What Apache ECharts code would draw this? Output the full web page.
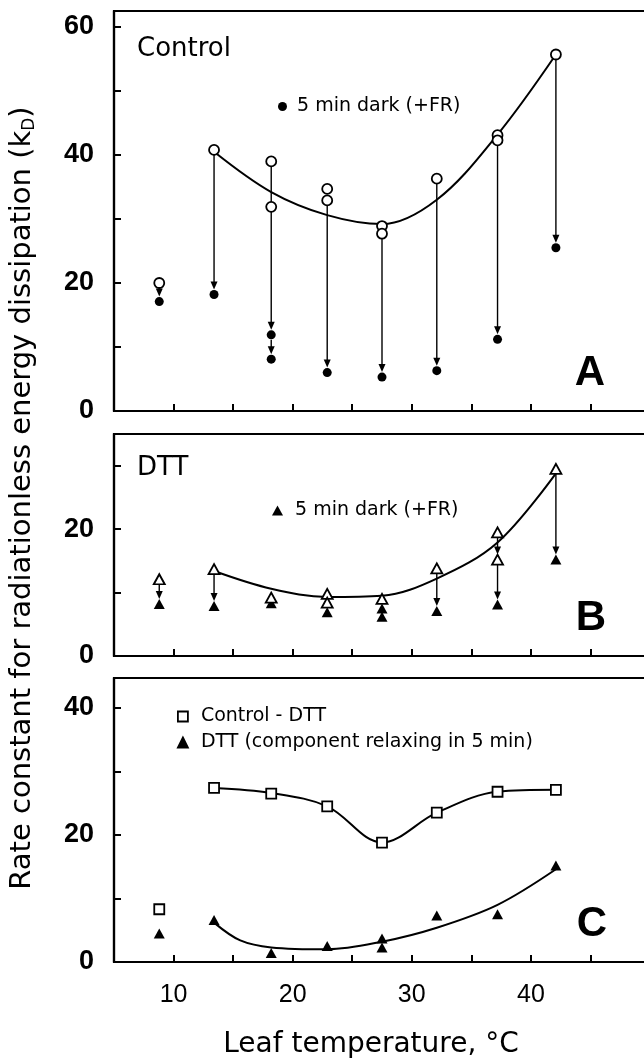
<!DOCTYPE html>
<html lang="en">
<head>
<meta charset="UTF-8">
<title>Radiationless energy dissipation vs leaf temperature</title>
<script src="https://cdn.jsdelivr.net/npm/echarts@6/dist/echarts.min.js"></script>
<style>
    html, body { margin: 0; padding: 0; background: #fff; }
    #chart { width: 644px; height: 1059px; }
</style>
</head>
<body>
<div id="chart"></div>
<script>
// ---- values: [temperature, k_D] ----
// panel A, control leaves: open = in light, filled = after 5 min dark (+FR)
var ctrlLight = [[8.8, 20], [13.4, 40.8], [18.2, 39], [18.2, 31.9], [22.9, 34.7], [22.9, 32.9],
    [27.5, 28.9], [27.5, 27.7], [32.1, 36.3], [37.2, 43.1], [37.2, 42.3], [42.1, 55.7]];
var ctrlDark = [[8.8, 17.1], [13.4, 18.2], [18.2, 11.9], [18.2, 8.1], [22.9, 6.0], [27.5, 5.3],
    [32.1, 6.3], [37.2, 11.2], [42.1, 25.5]];
// arrows: [temperature, from, to]
var ctrlArrows = [[8.8, 20, 17.1], [13.4, 40.8, 18.2], [18.2, 39, 11.9], [18.2, 11.9, 8.1], [22.9, 32.9, 6.0],
    [27.5, 27.7, 5.3], [32.1, 36.3, 6.3], [37.2, 42.3, 11.2], [42.1, 55.7, 25.5]];
var ctrlCurve = [[13.4, 40.5], [18.2, 34.2], [22.9, 30.6], [27.5, 29.2], [32.1, 33.0], [37.2, 43.2], [42.1, 55.7]];

// panel B, DTT-fed leaves
var dttLight = [[8.8, 12.1], [13.4, 13.7], [18.2, 9.2], [22.9, 9.8], [22.9, 8.4], [27.5, 9.0],
    [32.1, 13.8], [37.2, 19.5], [37.2, 15.2], [42.1, 29.5]];
var dttDark = [[8.8, 8.2], [13.4, 7.9], [18.2, 8.3], [22.9, 6.9], [27.5, 7.5], [27.5, 6.2],
    [32.1, 7.1], [37.2, 8.1], [42.1, 15.2]];
var dttArrows = [[8.8, 12.1, 8.2], [13.4, 13.7, 7.9], [32.1, 13.8, 7.1], [37.2, 19.5, 15.2],
    [37.2, 15.2, 8.1], [42.1, 29.5, 15.2]];
var dttCurve = [[13.4, 13.4], [18.2, 10.6], [22.9, 9.3], [27.5, 9.5], [32.1, 12.2], [37.2, 17.9], [42.1, 28.8]];

// panel C
var diffPts = [[8.8, 8.3], [13.4, 27.4], [18.2, 26.5], [22.9, 24.5], [27.5, 18.8], [32.1, 23.5],
    [37.2, 26.8], [42.1, 27.1]];
var relaxPts = [[8.8, 4.5], [13.4, 6.6], [18.2, 1.4], [22.9, 2.5], [27.5, 3.7], [27.5, 2.3],
    [32.1, 7.3], [37.2, 7.5], [42.1, 15.2]];
var diffCurve = [[13.4, 27.4], [18.2, 26.6], [22.9, 24.5], [27.5, 18.8], [32.1, 23.5], [37.2, 26.8], [42.1, 27.1]];
var relaxCurve = [[13.4, 6.2], [15.6, 3.4], [18.2, 2.3], [22.9, 2.0], [27.5, 3.2], [32.1, 5.4], [37.2, 9.0], [42.1, 14.6]];

// tick labels
var xLabels = [10, 20, 30, 40];
var yLabelsA = [0, 20, 40, 60];
var yLabelsB = [0, 20];
var yLabelsC = [0, 20, 40];

var darkName = '5 min dark (+FR)';
var diffName = 'Control - DTT';
var relaxName = 'DTT (component relaxing in 5 min)';

var chart = echarts.init(document.getElementById('chart'));

function xAxis(i, showLabels) {
    return {
        type: 'value', gridIndex: i, min: 5, max: 50, interval: 5,
        axisLine: { onZero: false, lineStyle: { color: '#000', width: 2.2 } },
        axisTick: { inside: true, length: 7, lineStyle: { color: '#000', width: 2 } },
        splitLine: { show: false },
        axisLabel: {
            show: showLabels, margin: 21, color: '#000', verticalAlign: 'top',
            fontFamily: 'Liberation Sans', fontSize: 25,
            formatter: function (v) { return xLabels.indexOf(v) >= 0 ? String(v) : ''; }
        }
    };
}

function yAxis(i, max, labels) {
    return {
        type: 'value', gridIndex: i, min: 0, max: max, interval: 10,
        axisLine: { lineStyle: { color: '#000', width: 2.2 } },
        axisTick: { inside: true, length: 7, lineStyle: { color: '#000', width: 2 } },
        splitLine: { show: false },
        axisLabel: {
            margin: 20, color: '#000',
            fontFamily: 'Liberation Sans', fontWeight: 'bold', fontSize: 27,
            formatter: function (v) { return labels.indexOf(v) >= 0 ? String(v) : ''; }
        }
    };
}

// vertical arrow from one marker down to the other
function arrows(data, idx, gap) {
    return {
        type: 'custom', xAxisIndex: idx, yAxisIndex: idx, data: data, z: 3, silent: true,
        encode: { x: 0, y: [1, 2] },
        renderItem: function (params, api) {
            var a = api.coord([api.value(0), api.value(1)]);
            var b = api.coord([api.value(0), api.value(2)]);
            var x = a[0], y0 = a[1] + gap, tip = b[1] - gap;
            return {
                type: 'group',
                children: [
                    { type: 'line', shape: { x1: x, y1: y0, x2: x, y2: tip - 4 }, style: { stroke: '#000', lineWidth: 1.4 } },
                    { type: 'polygon', shape: { points: [[x - 3.5, tip - 8], [x + 3.5, tip - 8], [x, tip]] }, style: { fill: '#000' } }
                ]
            };
        }
    };
}

function curve(data, idx) {
    return {
        type: 'line', xAxisIndex: idx, yAxisIndex: idx, data: data, smooth: 0.35,
        showSymbol: false, silent: true, z: 2,
        lineStyle: { color: '#000', width: 2 }
    };
}

function points(name, data, idx, symbol, size, filled) {
    return {
        name: name, type: 'scatter', xAxisIndex: idx, yAxisIndex: idx, data: data,
        symbol: symbol, symbolSize: size, z: filled ? 4 : 5,
        itemStyle: filled ? { color: '#000', opacity: 1 } : { color: '#fff', borderColor: '#000', borderWidth: 1.8, opacity: 1 }
    };
}

function panelGrid(top, height) {
    return {
        left: 114, top: top, width: 536, height: height, outerBoundsMode: 'none', containLabel: false,
        show: true, borderColor: '#000', borderWidth: 2.2
    };
}

var option = {
    animation: false,
    backgroundColor: '#fff',
    grid: [panelGrid(11, 400), panelGrid(434, 222), panelGrid(678, 284)],
    xAxis: [xAxis(0, false), xAxis(1, false), xAxis(2, true)],
    yAxis: [yAxis(0, 62.5, yLabelsA), yAxis(1, 35, yLabelsB), yAxis(2, 44.7, yLabelsC)],
    legend: [
        {
            left: 278, top: 97, padding: 0, selectedMode: false, itemWidth: 9, itemHeight: 9,
            data: [{ name: darkName, icon: 'circle' }],
            textStyle: { color: '#000', fontFamily: 'DejaVu Sans', fontSize: 19, rich: { g: { width: 5 } } },
            formatter: function (n) { return '{g| }' + n; }
        },
        {
            left: 272, top: 501, padding: 0, selectedMode: false, itemWidth: 11, itemHeight: 10,
            data: [{ name: darkName, icon: 'triangle' }],
            textStyle: { color: '#000', fontFamily: 'DejaVu Sans', fontSize: 19, rich: { g: { width: 7 } } },
            formatter: function (n) { return '{g| }' + n; }
        },
        {
            left: 177, top: 707, padding: 0, orient: 'vertical', itemGap: 7, selectedMode: false,
            itemWidth: 10, itemHeight: 10,
            data: [{ name: diffName, icon: 'rect' }, { name: relaxName, icon: 'triangle' }],
            itemStyle: { borderColor: '#000', borderWidth: 1.8 },
            textStyle: { color: '#000', fontFamily: 'DejaVu Sans', fontSize: 19, rich: { g: { width: 8 } } },
            formatter: function (n) { return '{g| }' + n; }
        }
    ],
    graphic: [
        { type: 'text', x: 137, y: 49, style: { text: 'Control', font: '26px "DejaVu Sans"', fill: '#000', align: 'left', verticalAlign: 'middle' } },
        { type: 'text', x: 137, y: 468, style: { text: 'DTT', font: '26px "DejaVu Sans"', fill: '#000', align: 'left', verticalAlign: 'middle' } },
        { type: 'text', x: 590, y: 373, style: { text: 'A', font: 'bold 42px "Liberation Sans"', fill: '#000', align: 'center', verticalAlign: 'middle' } },
        { type: 'text', x: 591, y: 618, style: { text: 'B', font: 'bold 42px "Liberation Sans"', fill: '#000', align: 'center', verticalAlign: 'middle' } },
        { type: 'text', x: 592, y: 924, style: { text: 'C', font: 'bold 42px "Liberation Sans"', fill: '#000', align: 'center', verticalAlign: 'middle' } },
        { type: 'text', x: 371, y: 1045, style: { text: 'Leaf temperature, °C', font: '28px "DejaVu Sans"', fill: '#000', align: 'center', verticalAlign: 'middle' } },
        {
            type: 'text', x: 22, y: 498, rotation: Math.PI / 2,
            style: {
                text: 'Rate constant for radiationless energy dissipation (k{sub|D})',
                font: '29px "DejaVu Sans"', fill: '#000', align: 'center', verticalAlign: 'middle',
                lineHeight: 32,
                rich: { sub: { fontFamily: 'DejaVu Sans', fontSize: 17, lineHeight: 17, verticalAlign: 'bottom' } }
            }
        }
    ],
    series: [
        curve(ctrlCurve, 0),
        arrows(ctrlArrows, 0, 5),
        points(darkName, ctrlDark, 0, 'circle', 9, true),
        points('Control (light)', ctrlLight, 0, 'circle', 10, false),

        curve(dttCurve, 1),
        arrows(dttArrows, 1, 5),
        points(darkName, dttDark, 1, 'triangle', [11, 10], true),
        points('DTT (light)', dttLight, 1, 'triangle', [11, 10], false),

        curve(diffCurve, 2),
        curve(relaxCurve, 2),
        points(diffName, diffPts, 2, 'rect', 10, false),
        points(relaxName, relaxPts, 2, 'triangle', [11, 10], true)
    ]
};

chart.setOption(option);
</script>
</body>
</html>
